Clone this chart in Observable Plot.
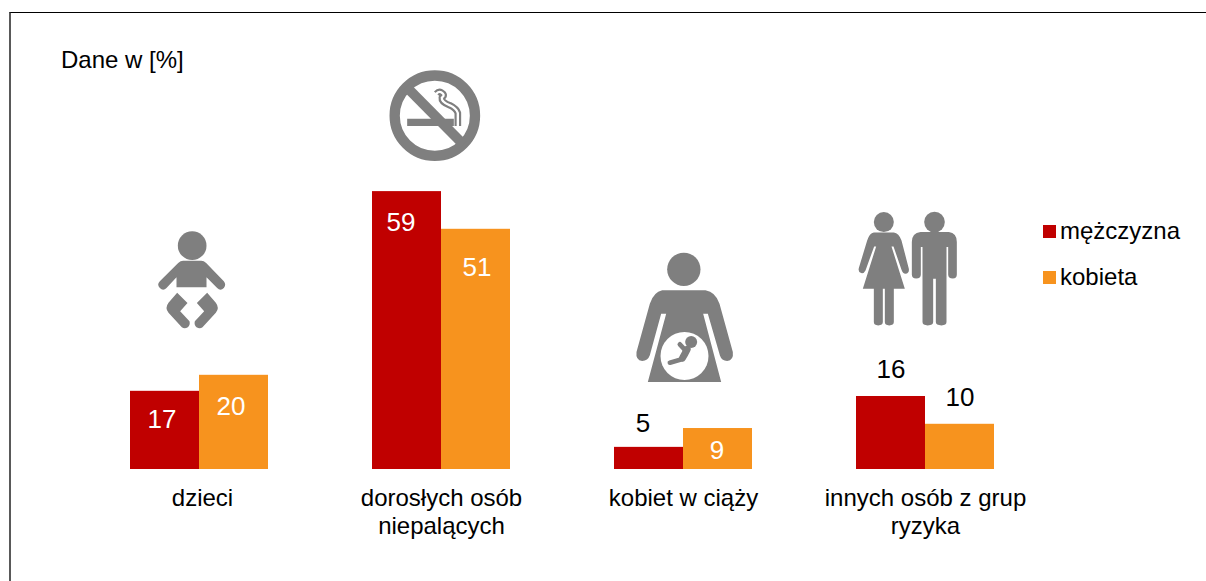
<!DOCTYPE html>
<html lang="pl">
<head>
<meta charset="utf-8">
<script src="https://cdn.jsdelivr.net/npm/d3@7"></script>
<script src="https://cdn.jsdelivr.net/npm/@observablehq/plot@0.6"></script>
<style>
html,body{margin:0;padding:0;background:#fff;overflow:hidden}
#chart{position:relative;width:1206px;height:581px;font-family:"Liberation Sans",Arial,sans-serif;color:#000}
#chart svg{display:block}
#frame{position:absolute;left:9px;top:12px;right:0;bottom:0;border-top:1px solid #000;border-left:2px solid #595959;pointer-events:none}
#unit{position:absolute;left:61px;top:46px;font-size:24px;line-height:28px}
.leg{position:absolute;left:1043px;font-size:24px;line-height:28px;white-space:nowrap}
.leg i{position:absolute;left:0;top:8px;width:13px;height:13px}
.leg span{position:absolute;left:17px;top:0}
</style>
</head>
<body>
<div id="chart"></div>
<script>
const categories = ["dzieci", "dorosłych osób\nniepalących", "kobiet w ciąży", "innych osób z grup\nryzyka"];
const seriesNames = ["mężczyzna", "kobieta"];
const men = [16.6, 59, 4.7, 15.5];
const women = [20, 51, 8.7, 9.6];
const labelsMen = [17, 59, 5, 16];
const labelsWomen = [20, 51, 9, 10];
const colors = ["#c00000", "#f7931e"];

const rows = categories.flatMap((c, i) => [
  {category: c, series: seriesNames[0], value: men[i], label: labelsMen[i]},
  {category: c, series: seriesNames[1], value: women[i], label: labelsWomen[i]}
]);

// Offsets of the value labels from their bar tops and band centres, and their text colour
const labelDy = {"17": 28, "59": 31, "5": -24, "16": -27, "20": 31, "51": 38, "9": 22, "10": -27};
const labelDx = {"17": -3, "59": -6, "5": -6, "16": 0, "20": -3, "51": 1, "9": -1, "10": 0};
const labelFill = l => labelDy[l] > 0 ? "#fff" : "#000";

const g = "#7f7f7f";
const svgUrl = (w, h, inner) => "data:image/svg+xml;utf8," + encodeURIComponent(
  `<svg xmlns="http://www.w3.org/2000/svg" viewBox="0 0 ${w} ${h}" width="${w}" height="${h}">${inner}</svg>`);

const iconBaby = svgUrl(330, 360, `<g fill="${g}" stroke="none">
<circle cx="155" cy="75" r="43"/>
<path d="M128 120H182Q190 120 197 127L250 182Q258 192 250 202Q240 212 230 202L198 170V200H108V170L78 202Q68 212 58 202Q48 192 58 182L113 127Q120 120 128 120Z"/>
<path d="M110 216L141 247L119 272L147 302Q150 312 142 320Q132 326 124 320L84 276Q72 262 84 246Z"/>
<path d="M200 216L169 247L191 272L163 302Q160 312 168 320Q178 326 186 320L226 276Q238 262 226 246Z"/></g>`);

const smokePath = "M262 197V158Q258 145 238 135Q212 125 214 112Q226 104 212 96Q205 92 198 100";
const iconNoSmoke = svgUrl(390, 330, `
<path fill="${g}" d="M110 175H250V197H110Z"/>
<path fill="none" stroke="${g}" stroke-width="20" stroke-linecap="butt" stroke-linejoin="round" d="${smokePath}"/>
<path fill="none" stroke="#fff" stroke-width="7" stroke-linecap="round" stroke-linejoin="round" d="${smokePath}"/>
<circle cx="193" cy="166" r="120.5" fill="none" stroke="${g}" stroke-width="31"/>
<path d="M108 80L278 252" stroke="${g}" stroke-width="30" fill="none"/>`);

const iconPregnant = svgUrl(390, 435, `
<circle cx="190" cy="72" r="50" fill="${g}"/>
<path fill="${g}" d="M125 135H255Q285 140 297 175L337 320Q340 345 320 347Q303 347 298 330L262 205H248L302 410H82L137 205H122L88 330Q82 347 65 347Q45 345 48 320L88 175Q100 140 125 135Z"/>
<circle cx="192" cy="332" r="72" fill="#fff"/>
<circle cx="212" cy="290" r="18" fill="${g}"/>
<path fill="none" stroke="${g}" stroke-linecap="round" stroke-linejoin="round" stroke-width="14" d="M178 297L192 312"/>
<path fill="none" stroke="${g}" stroke-linecap="round" stroke-linejoin="round" stroke-width="21" d="M200 312Q192 328 186 338"/>
<path fill="none" stroke="${g}" stroke-linecap="round" stroke-linejoin="round" stroke-width="14" d="M184 342L148 352"/>`);

const iconPeople = svgUrl(390, 405, `<g fill="${g}">
<circle cx="115" cy="65" r="30"/>
<circle cx="267" cy="65" r="31"/>
<path d="M85 96H145Q160 98 168 120L190 205Q192 218 180 220Q172 220 168 208L144 138H138L178 265H145V365Q145 375 131 375Q118 375 118 365V265H112V365Q112 375 98 375Q85 375 85 365V265H52L92 138H86L60 210Q55 220 47 218Q37 215 40 203L65 120Q72 98 85 96Z"/>
<path d="M225 95H310Q334 98 334 125V222Q334 234 322 234Q308 234 308 222V140H303V365Q303 375 288 375Q271 375 271 365V235H263V365Q263 375 247 375Q231 375 231 365V140H226V222Q226 234 212 234Q199 234 199 222V125Q199 98 225 95Z"/>
</g>`);

const icons = [
  {category: categories[0], src: iconBaby, level: 40.1, w: 110, h: 120, dx: -4},
  {category: categories[1], src: iconNoSmoke, level: 75.2, w: 130, h: 110, dx: -6},
  {category: categories[2], src: iconPregnant, level: 32.2, w: 130, h: 145, dx: 2},
  {category: categories[3], src: iconPeople, level: 42.8, w: 130, h: 135, dx: -15}
];

const axisBase = {anchor: "bottom", tickSize: 0, tickPadding: 17, lineHeight: 1.167, fontSize: 24, label: null, fill: "#000"};

const plot = Plot.plot({
  width: 1206,
  height: 581,
  marginTop: 0,
  marginBottom: 112,
  marginLeft: 130,
  marginRight: 212,
  style: {background: "transparent", fontFamily: "'Liberation Sans', Arial, sans-serif", fontSize: "24px", color: "#000"},
  fx: {domain: categories, paddingInner: 104 / 242, paddingOuter: 0, round: false, label: null},
  x: {domain: seriesNames, padding: 0, round: false, axis: null, label: null},
  y: {domain: [0, 469 / 4.71], axis: null, label: null},
  color: {domain: seriesNames, range: colors},
  marks: [
    Plot.axisFx({...axisBase, ticks: categories.slice(0, 1), dx: 3}),
    Plot.axisFx({...axisBase, ticks: categories.slice(1)}),
    Plot.barY(rows, {fx: "category", x: "series", y: "value", fill: "series"}),
    ...rows.map(r => Plot.text([r], {
      fx: "category", x: "series", y: "value", text: "label",
      dx: labelDx[r.label], dy: labelDy[r.label], fill: labelFill(r.label), fontSize: 26
    })),
    ...icons.map(ic => Plot.image([ic], {
      fx: "category", y: "level", src: "src", width: ic.w, height: ic.h, dx: ic.dx, preserveAspectRatio: "none"
    }))
  ]
});

const chart = document.getElementById("chart");
chart.appendChild(plot);
const add = (cls, id, html, css) => {
  const d = document.createElement("div");
  if (cls) d.className = cls;
  if (id) d.id = id;
  d.innerHTML = html;
  if (css) d.style.cssText = css;
  chart.appendChild(d);
};
add("", "frame", "");
add("", "unit", "Dane w [%]");
seriesNames.forEach((s, i) => add("leg", "", `<i style="background:${colors[i]}"></i><span>${s}</span>`, `top:${[217, 263][i]}px`));
</script>
</body>
</html>
